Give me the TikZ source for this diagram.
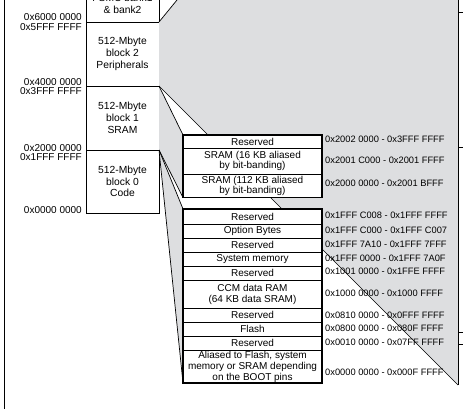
\documentclass[tikz,border=0pt]{standalone}
\usepackage{fontspec}
\setmainfont{Liberation Sans}
\definecolor{conegray}{RGB}{221,222,224}
\tikzset{
  cell/.style={draw, line width=0.6pt, fill=white, inner sep=0pt, outer sep=0pt,
    minimum width=139pt, anchor=north west, align=center,
    font=\fontsize{10}{11}\selectfont},
  cellsq/.style={cell, font=\fontsize{10}{10}\selectfont},
  blk/.style={draw, line width=0.8pt, fill=white, inner sep=0pt, outer sep=0pt,
    minimum width=73pt, anchor=north west, align=center,
    font=\fontsize{10.3}{11.7}\selectfont},
  addr/.style={anchor=west, inner sep=0pt, font=\fontsize{9.3}{10}\selectfont},
  lbl/.style={anchor=east, inner sep=0pt, font=\fontsize{10}{10}\selectfont},
  conn/.style={line width=0.7pt},
  outer/.style={line width=1.3pt},
}
\begin{document}
\begin{tikzpicture}[x=1pt,y=-1pt]
\useasboundingbox (0,0) rectangle (463,409);
\clip (0,0) rectangle (463,409);

% block column
\node[blk, minimum height=64pt] (b3) at (86,-42) {};
\node[font=\fontsize{10.3}{11.7}\selectfont, align=center, inner sep=0pt] (b3t) at (122.5,4) {FSMC bank1\\\& bank2};
\node[blk, minimum height=64pt] (b2) at (86,22) {512-Mbyte\\block 2\\Peripherals};
\node[blk, minimum height=64pt] (b1) at (86,86) {512-Mbyte\\block 1\\SRAM};
\node[blk, minimum height=63pt] (b0) at (86,150) {512-Mbyte\\block 0\\Code};

% expansion boxes (positions only, drawn later)
\coordinate (ptop) at (186,-11);
\coordinate (rtop) at (458,-11);
\coordinate (rbot) at (458,385);

% gray regions
\fill[conegray] (b2.north east) -- (ptop) -- (rtop) -- (rbot) -- (b2.south east) -- cycle;
\fill[conegray] (b1.north east) -- (183,135) -- (183,197.5) -- (b1.south east) -- cycle;
\fill[conegray] (b0.north east) -- (183,209) -- (183,383) -- cycle;

\draw[conn] (b2.north east) -- (ptop);
\draw[conn] (b2.south east) -- (rbot);
\draw[conn] (rtop) -- (rbot);

% SRAM group
\node[cell, minimum height=13pt] (s1) at (183,135) {Reserved};
\node[cellsq, minimum height=26pt] (s2) at (183,148) {SRAM (16 KB aliased\\by bit-banding)};
\node[cellsq, minimum height=23.5pt] (s3) at (183,174) {SRAM (112 KB aliased\\by bit-banding)};
\draw[outer] (s1.north west) rectangle (s3.south east);

% Code group
\node[cell, minimum height=15pt] (c1) at (183,209) {Reserved};
\node[cell, minimum height=14pt] (c2) at (183,224) {Option Bytes};
\node[cell, minimum height=14pt] (c3) at (183,238) {Reserved};
\node[cell, minimum height=14pt] (c4) at (183,252) {System memory};
\node[cell, minimum height=14pt] (c5) at (183,266) {Reserved};
\node[cell, minimum height=28pt] (c6) at (183,280) {CCM data RAM\\(64 KB data SRAM)};
\node[cell, minimum height=14pt] (c7) at (183,308) {Reserved};
\node[cell, minimum height=14pt] (c8) at (183,322) {Flash};
\node[cell, minimum height=14pt] (c9) at (183,336) {Reserved};
\node[cell, minimum height=33pt] (c10) at (183,350) {Aliased to Flash, system\\memory or SRAM depending\\on the BOOT pins};
\draw[outer] (c1.north west) rectangle (c10.south east);

% cone edges
\draw[conn] (b1.north east) -- (s1.north west);
\draw[conn] (b1.south east) -- (s3.south west);
\draw[conn] (b0.north east) -- (c1.north west);
\draw[conn] (b0.north east) -- (c10.south west);

% right-side ticks
\coordinate (t1a) at (458,12);  \coordinate (t1b) at (466,12);
\coordinate (t2a) at (458,147); \coordinate (t2b) at (466,147);
\coordinate (t3a) at (458,332); \coordinate (t3b) at (466,332);
\coordinate (t4a) at (458,344); \coordinate (t4b) at (466,344);
\draw[conn] (t1a) -- (t1b);
\draw[conn] (t2a) -- (t2b);
\draw[conn] (t3a) -- (t3b);
\draw[conn] (t4a) -- (t4b);

% left line
\coordinate (la) at (4,-5);
\coordinate (lb) at (4,415);
\draw[line width=0.8pt] (la) -- (lb);

% left labels
\node[lbl] (l1) at (82,16.7) {0x6000 0000};
\node[lbl] (l2) at (82,26.7) {0x5FFF FFFF};
\node[lbl] (l3) at (82,81.7) {0x4000 0000};
\node[lbl] (l4) at (82,90.7) {0x3FFF FFFF};
\node[lbl] (l5) at (82,148.5) {0x2000 0000};
\node[lbl] (l6) at (82,157) {0x1FFF FFFF};
\node[lbl] (l7) at (82,210) {0x0000 0000};

% right addresses
\node[addr] (a1) at (325,139.5) {0x2002 0000 - 0x3FFF FFFF};
\node[addr] (a2) at (325,160.5) {0x2001 C000 - 0x2001 FFFF};
\node[addr] (a3) at (325,183) {0x2000 0000 - 0x2001 BFFF};
\node[addr] (a4) at (325,215.7) {0x1FFF C008 - 0x1FFF FFFF};
\node[addr] (a5) at (325,230.7) {0x1FFF C000 - 0x1FFF C007};
\node[addr] (a6) at (325,244.5) {0x1FFF 7A10 - 0x1FFF 7FFF};
\node[addr] (a7) at (325,258.7) {0x1FFF 0000 - 0x1FFF 7A0F};
\node[addr] (a8) at (325,271.5) {0x1001 0000 - 0x1FFE FFFF};
\node[addr] (a9) at (325,293.5) {0x1000 0000 - 0x1000 FFFF};
\node[addr] (a10) at (325,315) {0x0810 0000 - 0x0FFF FFFF};
\node[addr] (a11) at (325,328.5) {0x0800 0000 - 0x080F FFFF};
\node[addr] (a12) at (325,342.5) {0x0010 0000 - 0x07FF FFFF};
\node[addr] (a13) at (325,372.7) {0x0000 0000 - 0x000F FFFF};
\end{tikzpicture}
\end{document}
